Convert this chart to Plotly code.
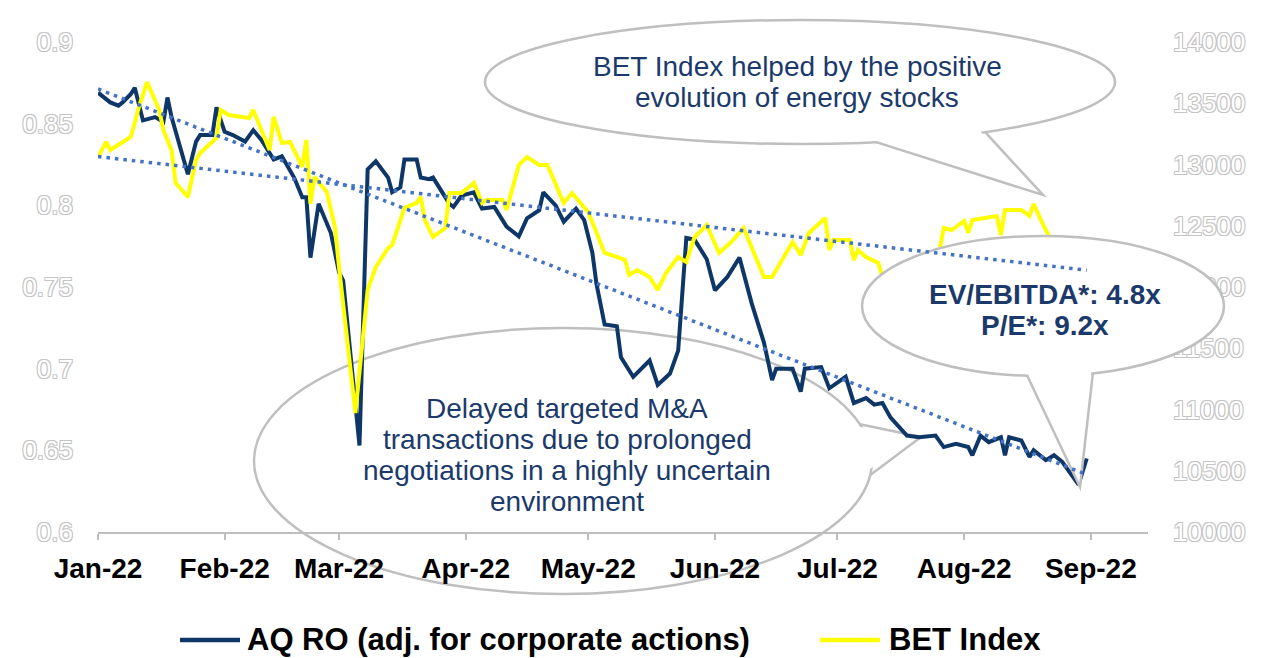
import numpy as np
import pandas as pd
import plotly.graph_objects as go

# AQ RO share price (adj. for corporate actions), left axis
aq_dates = ["2022-01-01", "2022-01-04", "2022-01-06", "2022-01-07", "2022-01-09", "2022-01-10",
            "2022-01-12", "2022-01-15", "2022-01-17", "2022-01-18", "2022-01-19", "2022-01-23",
            "2022-01-25", "2022-01-26", "2022-01-29", "2022-01-30", "2022-02-01", "2022-02-03",
            "2022-02-06", "2022-02-08", "2022-02-10", "2022-02-11", "2022-02-13", "2022-02-15",
            "2022-02-16", "2022-02-18", "2022-02-20", "2022-02-21", "2022-02-22", "2022-02-24",
            "2022-02-27", "2022-03-01", "2022-03-02", "2022-03-06", "2022-03-08", "2022-03-10",
            "2022-03-13", "2022-03-14", "2022-03-16", "2022-03-17", "2022-03-20", "2022-03-21",
            "2022-03-23", "2022-03-24", "2022-03-26", "2022-03-28", "2022-03-29", "2022-03-31",
            "2022-04-03", "2022-04-05", "2022-04-08", "2022-04-11", "2022-04-14", "2022-04-16",
            "2022-04-19", "2022-04-20", "2022-04-23", "2022-04-25", "2022-04-28", "2022-04-30",
            "2022-05-02", "2022-05-03", "2022-05-05", "2022-05-08", "2022-05-09", "2022-05-12",
            "2022-05-16", "2022-05-18", "2022-05-21", "2022-05-23", "2022-05-25", "2022-05-27",
            "2022-05-30", "2022-06-01", "2022-06-04", "2022-06-07", "2022-06-10", "2022-06-13",
            "2022-06-15", "2022-06-16", "2022-06-20", "2022-06-22", "2022-06-23", "2022-06-27",
            "2022-06-29", "2022-07-03", "2022-07-05", "2022-07-08", "2022-07-10", "2022-07-12",
            "2022-07-14", "2022-07-17", "2022-07-18", "2022-07-21", "2022-07-25", "2022-07-27",
            "2022-07-30", "2022-08-02", "2022-08-03", "2022-08-05", "2022-08-07", "2022-08-10",
            "2022-08-11", "2022-08-12", "2022-08-15", "2022-08-17", "2022-08-18", "2022-08-21",
            "2022-08-23", "2022-08-25", "2022-08-29", "2022-08-31"]
aq_price = [0.869, 0.863, 0.861, 0.863, 0.868, 0.872,
            0.852, 0.854, 0.851, 0.866, 0.854, 0.819,
            0.839, 0.843, 0.843, 0.860, 0.845, 0.843,
            0.839, 0.846, 0.840, 0.836, 0.828, 0.830,
            0.826, 0.817, 0.805, 0.805, 0.768, 0.801,
            0.783, 0.759, 0.754, 0.653, 0.822, 0.827,
            0.817, 0.808, 0.811, 0.828, 0.828, 0.817,
            0.816, 0.817, 0.809, 0.801, 0.799, 0.806,
            0.808, 0.798, 0.799, 0.787, 0.781, 0.792,
            0.797, 0.808, 0.800, 0.790, 0.798, 0.791,
            0.771, 0.752, 0.727, 0.726, 0.707, 0.695,
            0.705, 0.690, 0.697, 0.711, 0.780, 0.779,
            0.767, 0.748, 0.756, 0.768, 0.740, 0.716,
            0.693, 0.700, 0.700, 0.686, 0.700, 0.701,
            0.688, 0.695, 0.679, 0.682, 0.678, 0.679,
            0.670, 0.662, 0.659, 0.658, 0.659, 0.652,
            0.654, 0.652, 0.647, 0.659, 0.655, 0.658,
            0.647, 0.658, 0.656, 0.646, 0.650, 0.644,
            0.647, 0.643, 0.629, 0.645]

# BET Index, right axis
bet_dates = ["2022-01-01", "2022-01-03", "2022-01-04", "2022-01-06", "2022-01-09", "2022-01-10",
             "2022-01-11", "2022-01-13", "2022-01-16", "2022-01-17", "2022-01-19", "2022-01-20",
             "2022-01-23", "2022-01-25", "2022-01-26", "2022-01-30", "2022-01-31", "2022-02-02",
             "2022-02-07", "2022-02-08", "2022-02-12", "2022-02-13", "2022-02-15", "2022-02-17",
             "2022-02-20", "2022-02-21", "2022-02-22", "2022-02-23", "2022-02-26", "2022-02-28",
             "2022-03-01", "2022-03-05", "2022-03-08", "2022-03-10", "2022-03-13", "2022-03-14",
             "2022-03-17", "2022-03-20", "2022-03-21", "2022-03-22", "2022-03-24", "2022-03-27",
             "2022-03-28", "2022-03-31", "2022-04-03", "2022-04-05", "2022-04-06", "2022-04-10",
             "2022-04-11", "2022-04-14", "2022-04-16", "2022-04-19", "2022-04-21", "2022-04-25",
             "2022-04-27", "2022-05-01", "2022-05-03", "2022-05-05", "2022-05-08", "2022-05-10",
             "2022-05-11", "2022-05-13", "2022-05-16", "2022-05-18", "2022-05-20", "2022-05-23",
             "2022-05-25", "2022-05-27", "2022-05-30", "2022-06-02", "2022-06-05", "2022-06-08",
             "2022-06-13", "2022-06-15", "2022-06-20", "2022-06-22", "2022-06-24", "2022-06-28",
             "2022-06-29", "2022-06-30", "2022-07-04", "2022-07-05", "2022-07-06", "2022-07-08",
             "2022-07-11", "2022-07-12", "2022-07-26", "2022-07-27", "2022-07-29", "2022-08-01",
             "2022-08-02", "2022-08-03", "2022-08-09", "2022-08-10", "2022-08-11", "2022-08-15",
             "2022-08-17", "2022-08-18", "2022-08-20", "2022-08-22"]
bet_level = [13061, 13184, 13118, 13159, 13225, 13339,
             13469, 13673, 13445, 13282, 13118, 12849,
             12735, 13037, 13094, 13216, 13445, 13404,
             13380, 13445, 13118, 13388, 13176, 13184,
             12980, 13200, 12680, 12898, 12776, 12490,
             12160, 10972, 11976, 12163, 12318, 12343,
             12645, 12686, 12735, 12547, 12408, 12482,
             12767, 12767, 12849, 12686, 12710, 12710,
             12629, 12996, 13061, 12996, 12996, 12686,
             12767, 12612, 12441, 12278, 12245, 12220,
             12098, 12139, 12082, 11976, 12114, 12245,
             12204, 12408, 12506, 12278, 12367, 12482,
             12082, 12082, 12367, 12261, 12441, 12563,
             12302, 12384, 12384, 12220, 12302, 12245,
             12196, 12082, 12302, 12482, 12465, 12539,
             12441, 12547, 12580, 12425, 12629, 12629,
             12580, 12678, 12531, 12400]

series_names = ["AQ RO (adj. for corporate actions)", "BET Index"]
note_bet = ["BET Index helped by the positive", "evolution of energy stocks"]
note_val = ["EV/EBITDA*: 4.8x", "P/E*: 9.2x"]
note_ma = ["Delayed targeted M&A", "transactions due to prolonged",
           "negotiations in a highly uncertain", "environment"]

NAVY = "#0E3768"
YELLOW = "#FFFF00"
TREND = "#4472C4"
TEXT = "#1B3A6B"
BORDER = "#BFBFBF"
FONT = "Liberation Sans, Arial, sans-serif"

# the page body has an 8px margin, so the figure sits 8px in from the window corner
OFF = 8
W, H = 1271 - 2 * OFF, 658 - OFF
# plot area in window pixels
L, R, T, B = 98, 1148, 42, 532


def px(x, y):
    # window pixel position -> paper coordinates
    return (x - L) / (R - L), (B - y) / (B - T)


def ppath(points, close=False):
    s = ""
    for i, (x, y) in enumerate(points):
        xp, yp = px(x, y)
        s += ("M" if i == 0 else "L") + f"{xp:.5f},{yp:.5f}"
    return s + ("Z" if close else "")


shapes = []


def bubble(cx, cy, a, b, th1, th2, tip, layer):
    x0, y0 = px(cx - a, cy + b)
    x1, y1 = px(cx + a, cy - b)
    shapes.append(dict(type="circle", xref="paper", yref="paper", x0=x0, y0=y0, x1=x1, y1=y1,
                       fillcolor="white", line=dict(color=BORDER, width=2.5), layer=layer))
    base = [(cx + a * np.cos(np.radians(t)), cy + b * np.sin(np.radians(t))) for t in (th1, th2)]
    inner = [(cx + (x - cx) * 0.97, cy + (y - cy) * 0.97) for x, y in base]
    shapes.append(dict(type="path", xref="paper", yref="paper",
                       path=ppath([inner[0], tip, inner[1]], close=True),
                       fillcolor="white", line=dict(width=0), layer=layer))
    shapes.append(dict(type="path", xref="paper", yref="paper",
                       path=ppath([base[0], tip, base[1]]),
                       line=dict(color=BORDER, width=2.5), layer=layer))


bubble(563, 461, 309, 133, -16, 6, (921, 437), "below")
bubble(800, 82, 315, 62, 76, 54, (1043, 195), "above")
bubble(1043, 306, 181, 70, 95, 74, (1080, 487), "above")

# linear trendlines fitted on each series, drawn above the callouts
origin = pd.Timestamp("2022-01-01")
t_end = [pd.Timestamp(aq_dates[0]), pd.Timestamp(aq_dates[-1])]
for dates, vals, yref in [(aq_dates, aq_price, "y"), (bet_dates, bet_level, "y2")]:
    t = np.array([(pd.Timestamp(d) - origin).days for d in dates], dtype=float)
    k, c = np.polyfit(t, np.array(vals, dtype=float), 1)
    e = [(d - origin).days for d in t_end]
    shapes.append(dict(type="line", xref="x", yref=yref,
                       x0=t_end[0].strftime("%Y-%m-%d"), x1=t_end[1].strftime("%Y-%m-%d"),
                       y0=k * e[0] + c, y1=k * e[1] + c,
                       line=dict(color=TREND, width=3.5, dash="3.5px,5px"), layer="above"))

# legend drawn by hand (long line samples)
for (x0, x1), col in [((180, 240), NAVY), ((820, 880), YELLOW)]:
    shapes.append(dict(type="path", xref="paper", yref="paper",
                       path=ppath([(x0, 640), (x1, 640)]),
                       line=dict(color=col, width=4.5), layer="above"))

annotations = []


def label(x, y, text, size=28, bold=False, color=TEXT, anchor="center"):
    xp, yp = px(x, y)
    annotations.append(dict(x=xp, y=yp, xref="paper", yref="paper", text=text, showarrow=False,
                            xanchor=anchor, yanchor="middle",
                            font=dict(family=FONT, size=size, color=color,
                                      weight="bold" if bold else "normal")))


for i, s in enumerate(note_bet):
    label(797, 67 + 30 * i, s)
for i, s in enumerate(note_val):
    label(1045, 294 + 31 * i, s, bold=True)
for i, s in enumerate(note_ma):
    label(567, 408 + 31 * i, s)
label(245, 639, series_names[0], size=31, bold=True, color="black", anchor="left")
label(887, 639, series_names[1], size=31, bold=True, color="black", anchor="left")

fig = go.Figure()
fig.add_trace(go.Scatter(x=aq_dates, y=aq_price, name=series_names[0], mode="lines",
                         line=dict(color=NAVY, width=4)))
fig.add_trace(go.Scatter(x=bet_dates, y=bet_level, name=series_names[1], mode="lines",
                         yaxis="y2", line=dict(color=YELLOW, width=4)))

edge = "#C4C4C4"
outline = f"-1px -1px 0 {edge}, 1px -1px 0 {edge}, -1px 1px 0 {edge}, 1px 1px 0 {edge}"
fig.update_layout(
    width=W, height=H,
    margin=dict(l=L - OFF, r=W - (R - OFF), t=T - OFF, b=H - (B - OFF), autoexpand=False),
    paper_bgcolor="white", plot_bgcolor="white",
    showlegend=False,
    font=dict(family=FONT),
    xaxis=dict(type="date", range=["2022-01-01", "2022-09-15"], tick0="2022-01-01", dtick="M1",
               tickformat="%b-%y", showgrid=False, zeroline=False,
               showline=True, linecolor=BORDER, linewidth=2,
               ticks="outside", ticklen=6, tickwidth=2, tickcolor=BORDER,
               ticklabelstandoff=4,
               tickfont=dict(family=FONT, size=28, color="black", weight="bold")),
    yaxis=dict(range=[0.6, 0.9], dtick=0.05, showgrid=False, zeroline=False, showline=False,
               ticklabelstandoff=24,
               tickfont=dict(family=FONT, size=26, color="white", shadow=outline)),
    yaxis2=dict(range=[10000, 14000], dtick=500, tickformat="d", overlaying="y", side="right",
                showgrid=False, zeroline=False, showline=False, ticklabelstandoff=24,
                tickfont=dict(family=FONT, size=26, color="white", shadow=outline)),
    shapes=shapes,
    annotations=annotations,
)

fig.write_html("out.html")
